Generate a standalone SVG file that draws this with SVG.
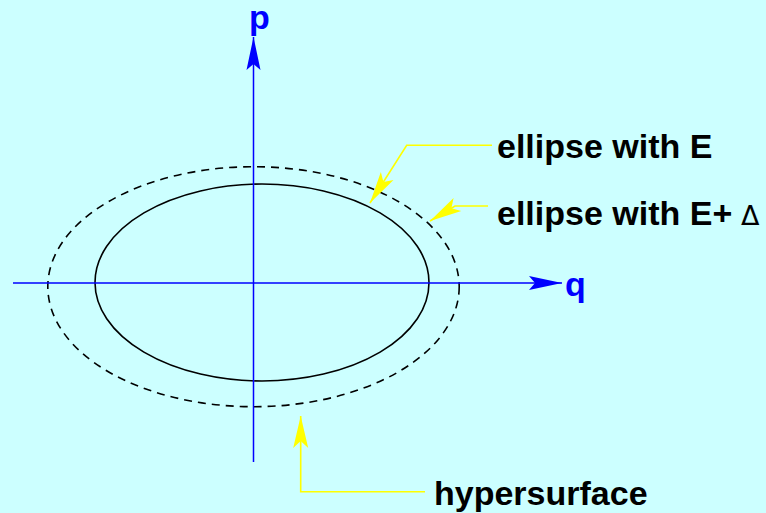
<svg xmlns="http://www.w3.org/2000/svg" width="766" height="513" viewBox="0 0 766 513">
<style>
.lbl{font-family:"Liberation Sans",Arial,sans-serif;font-weight:bold;font-size:34px;fill:#000}
.ax{font-family:"Liberation Sans",Arial,sans-serif;font-weight:bold;font-size:34px;fill:#0000ff}
.axis{stroke:#0000ff;stroke-width:1.5;fill:none}
.ell{stroke:#000;stroke-width:1.6;fill:none}
.dash{stroke-dasharray:8 6}
.ptr{stroke:#ffff00;stroke-width:1.6;fill:none}
</style>
<defs>
<marker id="ab" markerUnits="userSpaceOnUse" orient="auto" markerWidth="40" markerHeight="20" refX="0" refY="0" viewBox="-36 -10 40 20" overflow="visible">
<path d="M0,0 L-33,-7 L-27,0 L-33,7 Z" fill="#0000ff"/>
</marker>
<marker id="ay" markerUnits="userSpaceOnUse" orient="auto" markerWidth="40" markerHeight="20" refX="0" refY="0" viewBox="-36 -10 40 20" overflow="visible">
<path d="M0,0 L-32,-7.5 L-25,0 L-32,7.5 Z" fill="#ffff00"/>
</marker>
</defs>
<rect width="766" height="513" fill="#ccffff"/>
<g id="ellipse-E">
<ellipse class="ell" cx="262" cy="282.5" rx="167" ry="98.5"/>
</g>
<g id="ellipse-EDelta">
<ellipse class="ell dash" cx="253.5" cy="286.7" rx="205.7" ry="120"/>
</g>
<g id="axis-q">
<line class="axis" x1="13" y1="283" x2="562" y2="283" marker-end="url(#ab)"/>
<text class="ax" x="565" y="296">q</text>
</g>
<g id="axis-p">
<line class="axis" x1="253.5" y1="462" x2="253.5" y2="37" marker-end="url(#ab)"/>
<text class="ax" x="249" y="29">p</text>
</g>
<g id="label-E">
<text class="lbl" x="497" y="158">ellipse with E</text>
</g>
<g id="label-EDelta">
<text class="lbl" x="497" y="225">ellipse with E+</text>
<text x="741" y="225" font-family="'DejaVu Sans',sans-serif" font-size="27" fill="#000">Δ</text>
</g>
<g id="label-hyper">
<text class="lbl" x="434" y="505">hypersurface</text>
</g>
<g id="connectors">
<polyline class="ptr" points="492,145.3 406.7,145.3 370,203" marker-end="url(#ay)"/>
<polyline class="ptr" points="488,206 455,206 430,221" marker-end="url(#ay)"/>
<polyline class="ptr" points="425,491.7 300.7,491.7 300.7,416" marker-end="url(#ay)"/>
</g>
</svg>
